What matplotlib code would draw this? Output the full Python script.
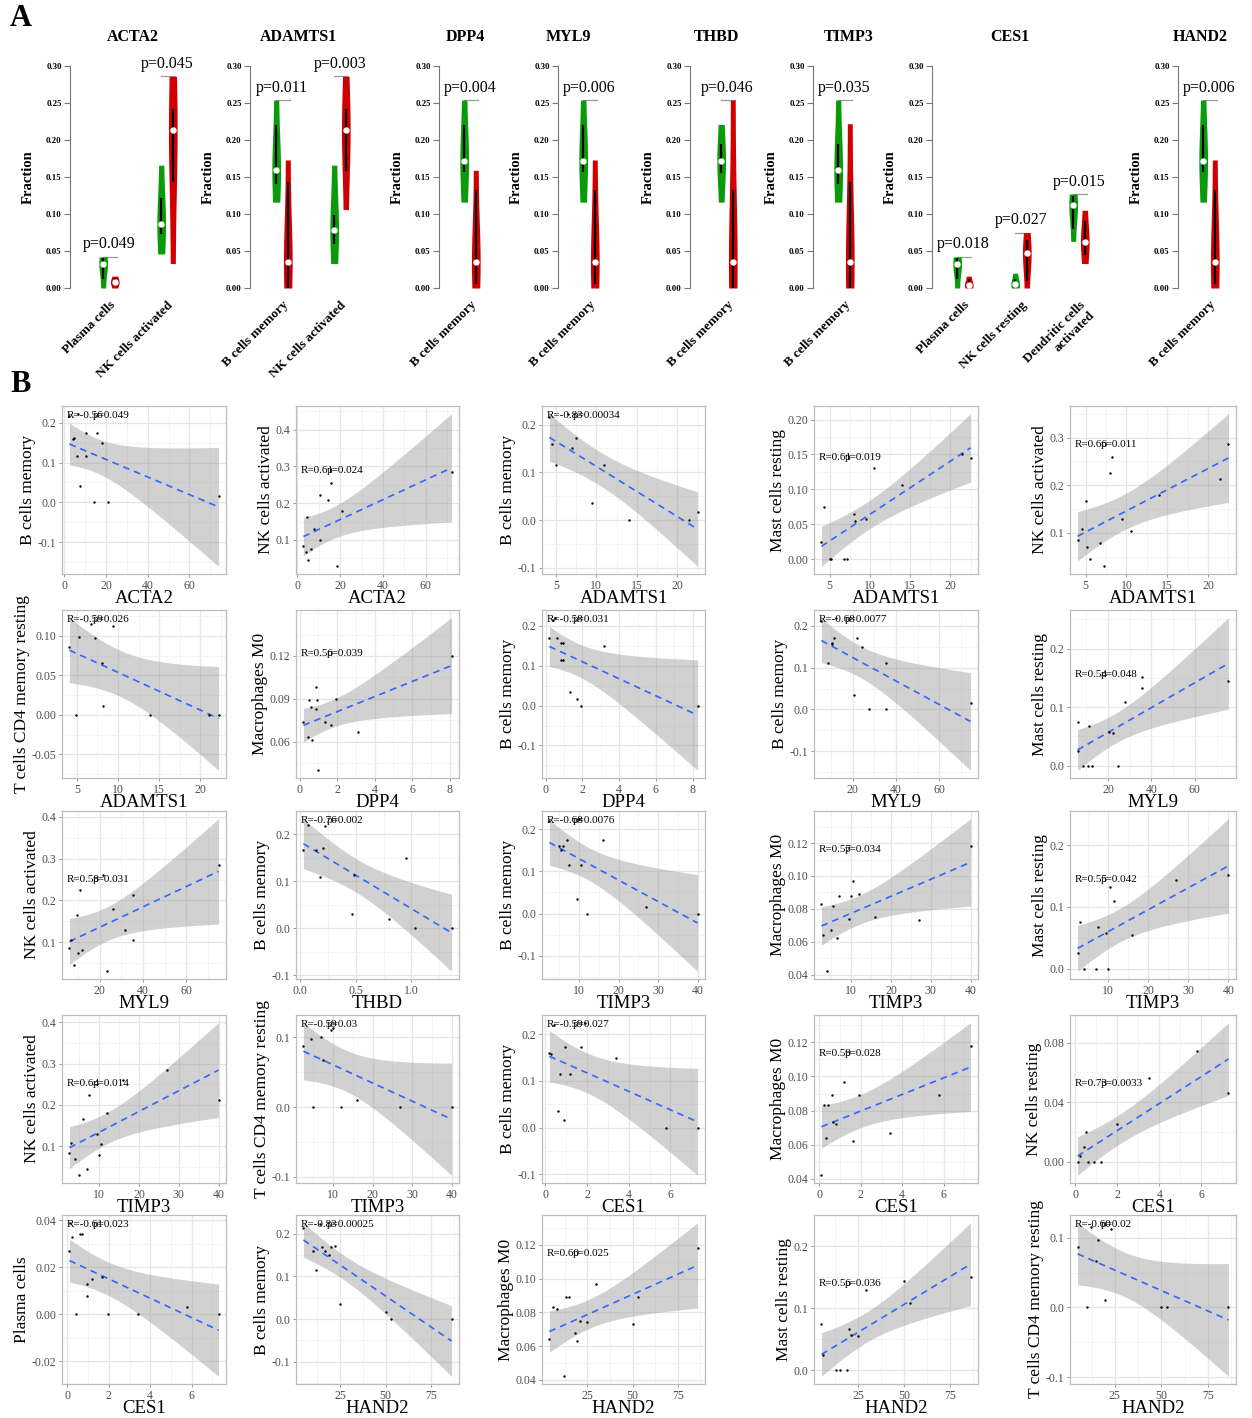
import numpy as np
import matplotlib.pyplot as plt

plt.rcParams['font.family'] = ['Liberation Serif', 'DejaVu Serif']

W, H = 1252, 1418

# ---------------- panel A data ----------------
a_genes = ['ACTA2', 'ADAMTS1', 'DPP4', 'MYL9', 'THBD', 'TIMP3', 'CES1', 'HAND2']
a_cells = [['Plasma cells', 'NK cells activated'],
           ['B cells memory', 'NK cells activated'],
           ['B cells memory'], ['B cells memory'], ['B cells memory'], ['B cells memory'],
           ['Plasma cells', 'NK cells resting', 'Dendritic cells\nactivated'],
           ['B cells memory']]
a_pvals = [['p=0.049', 'p=0.045'], ['p=0.011', 'p=0.003'], ['p=0.004'], ['p=0.006'],
           ['p=0.046'], ['p=0.035'], ['p=0.018', 'p=0.027', 'p=0.015'], ['p=0.006']]
# (min, q1, median, q3, max)
a_green = [[(0, 0.012, 0.033, 0.040, 0.042), (0.046, 0.073, 0.086, 0.121, 0.166)],
           [(0.116, 0.140, 0.159, 0.220, 0.254), (0.033, 0.060, 0.078, 0.098, 0.166)],
           [(0.116, 0.157, 0.172, 0.220, 0.254)],
           [(0.116, 0.157, 0.172, 0.220, 0.254)],
           [(0.116, 0.155, 0.172, 0.195, 0.221)],
           [(0.116, 0.140, 0.159, 0.195, 0.254)],
           [(0, 0.012, 0.033, 0.040, 0.042), (0, 0.002, 0.005, 0.012, 0.020),
            (0.063, 0.080, 0.112, 0.125, 0.127)],
           [(0.116, 0.157, 0.172, 0.220, 0.254)]]
a_red = [[(0, 0.003, 0.008, 0.014, 0.016), (0.033, 0.143, 0.213, 0.242, 0.286)],
         [(0, 0.0, 0.035, 0.143, 0.173), (0.106, 0.158, 0.213, 0.242, 0.286)],
         [(0, 0.005, 0.035, 0.133, 0.159)],
         [(0, 0.005, 0.035, 0.133, 0.173)],
         [(0, 0.0, 0.035, 0.133, 0.254)],
         [(0, 0.0, 0.035, 0.143, 0.222)],
         [(0, 0.002, 0.004, 0.012, 0.016), (0, 0.010, 0.047, 0.065, 0.075),
          (0.033, 0.045, 0.062, 0.090, 0.105)],
         [(0, 0.005, 0.035, 0.133, 0.173)]]
a_yticks = ['0.00', '0.05', '0.10', '0.15', '0.20', '0.25', '0.30']

# ---------------- panel B data ----------------
b_xgene = ['ACTA2', 'ACTA2', 'ADAMTS1', 'ADAMTS1', 'ADAMTS1',
           'ADAMTS1', 'DPP4', 'DPP4', 'MYL9', 'MYL9',
           'MYL9', 'THBD', 'TIMP3', 'TIMP3', 'TIMP3',
           'TIMP3', 'TIMP3', 'CES1', 'CES1', 'CES1',
           'CES1', 'HAND2', 'HAND2', 'HAND2', 'HAND2']
b_ycell = ['B cells memory', 'NK cells activated', 'B cells memory', 'Mast cells resting', 'NK cells activated',
           'T cells CD4 memory resting', 'Macrophages M0', 'B cells memory', 'B cells memory', 'Mast cells resting',
           'NK cells activated', 'B cells memory', 'B cells memory', 'Macrophages M0', 'Mast cells resting',
           'NK cells activated', 'T cells CD4 memory resting', 'B cells memory', 'Macrophages M0', 'NK cells resting',
           'Plasma cells', 'B cells memory', 'Macrophages M0', 'Mast cells resting', 'T cells CD4 memory resting']
b_r = ['R=-0.56', 'R=0.61', 'R=-0.83', 'R=0.61', 'R=0.66',
       'R=-0.59', 'R=0.56', 'R=-0.58', 'R=-0.68', 'R=0.54',
       'R=0.58', 'R=-0.76', 'R=-0.68', 'R=0.57', 'R=0.55',
       'R=0.64', 'R=-0.59', 'R=-0.59', 'R=0.59', 'R=0.73',
       'R=-0.61', 'R=-0.83', 'R=0.60', 'R=0.56', 'R=-0.60']
b_p = ['p=0.049', 'p=0.024', 'p=0.00034', 'p=0.019', 'p=0.011',
       'p=0.026', 'p=0.039', 'p=0.031', 'p=0.0077', 'p=0.048',
       'p=0.031', 'p=0.002', 'p=0.0076', 'p=0.034', 'p=0.042',
       'p=0.014', 'p=0.03', 'p=0.027', 'p=0.028', 'p=0.0033',
       'p=0.023', 'p=0.00025', 'p=0.025', 'p=0.036', 'p=0.02']
b_x = [
    [2.4, 4.2, 4.5, 5.9, 6.4, 7.4, 10.2, 10.2, 14.4, 15.8, 17.9, 21, 74],
    [2.9, 4.0, 4.4, 5.1, 6.6, 7.7, 10.6, 10.6, 14.3, 15.8, 18.7, 21, 72],
    [4.2, 4.5, 5.0, 6.5, 7.0, 7.5, 9.5, 11, 14, 21.5, 22.5],
    [4.0, 4.3, 5.0, 5.2, 6.8, 7.2, 8.0, 8.2, 9.5, 10.5, 14, 21.5, 22.5],
    [4.0, 4.5, 5.0, 5.2, 5.5, 6.8, 7.2, 8.0, 8.2, 9.5, 10.5, 14, 21.5, 22.5],
    [4.1, 4.9, 5.2, 6.7, 7.2, 8.0, 8.2, 9.4, 13.9, 21.1, 22.2],
    [0.2, 0.45, 0.5, 0.6, 0.65, 0.85, 0.87, 0.95, 0.97, 1.35, 1.65, 1.93, 3.13, 8.1],
    [0.2, 0.4, 0.5, 0.63, 0.85, 0.94, 0.85, 0.94, 1.32, 1.7, 1.93, 3.16, 8.27],
    [5.6, 8.4, 10.3, 10.6, 11.5, 12.3, 20.6, 22, 24.2, 27.4, 35.2, 35.2, 74.4],
    [6, 6, 8.6, 10.6, 11.5, 12.6, 20.6, 22.3, 24.6, 27.7, 35.7, 35.7, 75.5],
    [5.9, 6.7, 8.1, 9.6, 10, 10.7, 11.9, 21.5, 23.3, 26.3, 31.8, 35.5, 35.5, 75],
    [0.03, 0.07, 0.14, 0.18, 0.21, 0.22, 0.47, 0.48, 0.8, 0.95, 1.03, 1.36],
    [2.5, 5, 5.5, 6, 7, 7.5, 9.5, 10, 10.5, 12, 16, 27, 40],
    [2.5, 3, 4, 5, 5.5, 6.5, 7, 9.5, 10, 10.5, 12, 16, 27, 40],
    [2.5, 3, 4, 7, 7.5, 9.5, 10, 10.5, 11.5, 16, 27, 40],
    [2.5, 3, 4, 5, 6, 7, 7.5, 9.5, 10, 10.5, 12, 16, 27, 40],
    [2.5, 4.5, 5, 7, 7.5, 9.5, 10, 12, 16, 27, 40],
    [0.2, 0.3, 0.4, 0.6, 0.7, 0.9, 0.95, 1.2, 1.7, 1.9, 3.4, 5.8, 7.3],
    [0.1, 0.2, 0.3, 0.4, 0.6, 0.65, 0.8, 1.2, 1.6, 1.9, 3.4, 5.8, 7.3],
    [0.1, 0.2, 0.4, 0.5, 0.6, 0.9, 1.2, 2, 3.5, 5.8, 7.3],
    [0.1, 0.15, 0.2, 0.4, 0.6, 0.7, 0.95, 0.95, 1.2, 1.65, 1.95, 3.4, 5.8, 7.3],
    [5, 10, 12, 14, 15, 17, 19, 20, 22, 25, 50, 53, 86],
    [4, 6, 8, 12, 13, 15, 18, 19, 21, 25, 30, 50, 53, 86],
    [5, 6, 13, 15, 19, 20, 21, 25, 29, 50, 53, 86],
    [5, 10, 12, 15, 16, 20, 23, 50, 53, 86],
]
b_y = [
    [0.217, 0.159, 0.161, 0.116, 0.223, 0.04, 0.174, 0.116, 0.0, 0.174, 0.15, 0.0, 0.016],
    [0.084, 0.066, 0.163, 0.046, 0.075, 0.13, 0.10, 0.223, 0.21, 0.255, 0.028, 0.178, 0.284],
    [0.215, 0.16, 0.116, 0.223, 0.15, 0.172, 0.035, 0.116, 0.0, 0.0, 0.016],
    [0.025, 0.075, 0.0, 0.0, 0.0, 0.0, 0.065, 0.055, 0.057, 0.13, 0.107, 0.15, 0.145],
    [0.085, 0.108, 0.166, 0.07, 0.045, 0.078, 0.03, 0.225, 0.26, 0.13, 0.105, 0.18, 0.213, 0.286],
    [0.086, 0.0, 0.098, 0.115, 0.097, 0.066, 0.011, 0.112, 0.0, 0.0, 0.0],
    [0.074, 0.063, 0.089, 0.084, 0.061, 0.083, 0.098, 0.089, 0.040, 0.074, 0.072, 0.090, 0.067, 0.12],
    [0.17, 0.214, 0.22, 0.17, 0.157, 0.157, 0.114, 0.114, 0.034, 0.016, 0.0, 0.149, 0.0],
    [0.212, 0.112, 0.158, 0.156, 0.17, 0.219, 0.034, 0.17, 0.148, 0.0, 0.112, 0.0, 0.015],
    [0.074, 0.025, 0.0, 0.0, 0.067, 0.0, 0.057, 0.055, 0.0, 0.109, 0.132, 0.151, 0.144],
    [0.085, 0.104, 0.045, 0.165, 0.073, 0.225, 0.08, 0.26, 0.03, 0.18, 0.13, 0.213, 0.104, 0.285],
    [0.167, 0.22, 0.167, 0.11, 0.17, 0.218, 0.03, 0.113, 0.02, 0.15, 0.0, 0.0],
    [0.22, 0.16, 0.15, 0.16, 0.175, 0.116, 0.035, 0.225, 0.116, 0.0, 0.175, 0.016, 0.0],
    [0.083, 0.064, 0.042, 0.067, 0.082, 0.062, 0.088, 0.074, 0.088, 0.097, 0.089, 0.075, 0.073, 0.118],
    [0.025, 0.075, 0.0, 0.0, 0.067, 0.057, 0.0, 0.132, 0.109, 0.055, 0.144, 0.151],
    [0.085, 0.108, 0.07, 0.03, 0.166, 0.045, 0.225, 0.13, 0.078, 0.105, 0.18, 0.26, 0.285, 0.213],
    [0.087, 0.097, 0.0, 0.1, 0.067, 0.11, 0.113, 0.0, 0.01, 0.0, 0.0],
    [0.16, 0.158, 0.22, 0.035, 0.115, 0.016, 0.172, 0.115, 0.172, 0.225, 0.15, 0.0, 0.0],
    [0.042, 0.083, 0.064, 0.083, 0.089, 0.073, 0.072, 0.097, 0.062, 0.089, 0.067, 0.089, 0.118],
    [0.0, 0.004, 0.01, 0.02, 0.0, 0.0, 0.0, 0.025, 0.056, 0.074, 0.046],
    [0.027, 0.039, 0.033, 0.0, 0.034, 0.034, 0.013, 0.008, 0.015, 0.016, 0.0, 0.0, 0.003, 0.0],
    [0.215, 0.16, 0.116, 0.223, 0.17, 0.16, 0.15, 0.17, 0.172, 0.035, 0.016, 0.0, 0.0],
    [0.064, 0.083, 0.082, 0.042, 0.089, 0.089, 0.068, 0.063, 0.075, 0.074, 0.097, 0.073, 0.089, 0.118],
    [0.075, 0.025, 0.0, 0.0, 0.0, 0.067, 0.057, 0.055, 0.13, 0.144, 0.109, 0.15],
    [0.087, 0.0, 0.115, 0.067, 0.097, 0.01, 0.112, 0.0, 0.0, 0.0],
]
b_xticks = [['0', '20', '40', '60']] * 2 + [['5', '10', '15', '20']] * 4 + \
           [['0', '2', '4', '6', '8']] * 2 + [['20', '40', '60']] * 3 + [['0.0', '0.5', '1.0']] + \
           [['10', '20', '30', '40']] * 5 + [['0', '2', '4', '6']] * 4 + [['25', '50', '75']] * 4
b_yticks = [['-0.1', '0.0', '0.1', '0.2'], ['0.1', '0.2', '0.3', '0.4'], ['-0.1', '0.0', '0.1', '0.2'],
            ['0.00', '0.05', '0.10', '0.15', '0.20'], ['0.1', '0.2', '0.3'],
            ['-0.05', '0.00', '0.05', '0.10', '0.15'], ['0.06', '0.09', '0.12'], ['-0.1', '0.0', '0.1', '0.2'],
            ['-0.1', '0.0', '0.1', '0.2'], ['0.0', '0.1', '0.2'],
            ['0.1', '0.2', '0.3', '0.4'], ['-0.1', '0.0', '0.1', '0.2'], ['-0.1', '0.0', '0.1', '0.2'],
            ['0.04', '0.06', '0.08', '0.10', '0.12'], ['0.0', '0.1', '0.2'],
            ['0.1', '0.2', '0.3', '0.4'], ['-0.1', '0.0', '0.1'], ['-0.1', '0.0', '0.1', '0.2'],
            ['0.04', '0.06', '0.08', '0.10', '0.12'], ['0.00', '0.04', '0.08'],
            ['-0.02', '0.00', '0.02', '0.04'], ['-0.1', '0.0', '0.1', '0.2'],
            ['0.04', '0.06', '0.08', '0.10', '0.12'], ['0.0', '0.1', '0.2'], ['-0.1', '0.0', '0.1']]
# vertical placement of the R/p label (axes fraction)
b_labely = [0.97, 0.64, 0.97, 0.72, 0.8,
            0.97, 0.77, 0.97, 0.97, 0.64,
            0.62, 0.97, 0.97, 0.8, 0.62,
            0.62, 0.97, 0.97, 0.8, 0.62,
            0.97, 0.97, 0.8, 0.62, 0.97]


def t975(df):
    z = 1.959964
    return (z + (z**3 + z) / (4 * df) + (5 * z**5 + 16 * z**3 + 3 * z) / (96 * df**2)
            + (3 * z**7 + 19 * z**5 + 17 * z**3 - 15 * z) / (384 * df**3))


def rect(l, t, r, b):
    return [l / W, 1 - b / H, (r - l) / W, (b - t) / H]


fig = plt.figure(figsize=(W / 100, H / 100), dpi=100)

# ---------------- A ----------------
GREEN = '#0a9b0a'
RED = '#d10000'
a_spine = [70, 250, 439, 558, 690, 813, 932, 1178]
a_first = [109, 282, 470, 589, 727, 844, 963, 1209]
a_title_x = [133, 298, 465, 568, 717, 849, 1010, 1200]
step = 58.0


def violin(ax, xc, st, color):
    lo, q1, med, q3, hi = st
    yy = np.linspace(lo, hi, 80)
    span = max(hi - lo, 1e-6)
    w = 0.075 * (0.55 + 0.45 * np.exp(-((yy - med) / (0.45 * span)) ** 2))
    ax.fill_betweenx(yy, xc - w, xc + w, color=color, lw=0, zorder=2)
    ax.plot([xc, xc], [q1, q3], color='black', lw=1.6, zorder=3, solid_capstyle='butt')
    ax.plot(xc, med, 'o', ms=3.6, mfc='white', mec='white', zorder=4)


for i, g in enumerate(a_genes):
    n = len(a_cells[i])
    left = a_spine[i]
    right = a_first[i] + (n - 1) * step + 32
    ax = fig.add_axes(rect(left, 66, right, 288))
    ax.set_xlim(1 - (a_first[i] - left) / step, n + 32 / step)
    ax.set_ylim(0, 0.30)
    for k in range(n):
        xg, xr = k + 1 - 0.1, k + 1 + 0.1
        top = max(a_green[i][k][4], a_red[i][k][4])
        ax.plot([xg, xr + 0.04], [top, top], color='#9a9a9a', lw=0.9, zorder=1)
        violin(ax, xg, a_green[i][k], GREEN)
        violin(ax, xr, a_red[i][k], RED)
        ax.text(k + 1, top + 0.006, a_pvals[i][k], ha='center', va='bottom', fontsize=11.5,
                clip_on=False)
    for s in ['top', 'right', 'bottom']:
        ax.spines[s].set_visible(False)
    ax.spines['left'].set_color('#777777')
    ax.spines['left'].set_bounds(0, 0.30)
    ax.set_yticks([float(t) for t in a_yticks], a_yticks)
    ax.tick_params(axis='y', labelsize=6.3, length=4, width=0.8, color='#777777', pad=2)
    for lab in ax.get_yticklabels():
        lab.set_fontweight('bold')
    ax.set_xticks(np.arange(1, n + 1), a_cells[i], rotation=45, ha='right',
                  rotation_mode='anchor', fontsize=9.5, fontweight='bold')
    ax.tick_params(axis='x', length=0, pad=8)
    ax.set_ylabel('Fraction', fontsize=10.5, fontweight='bold', labelpad=8)
    fig.text(a_title_x[i] / W, 1 - 37 / H, g, ha='center', va='center', fontsize=11.5,
             fontweight='bold')

fig.text(10 / W, 1 - 18 / H, 'A', fontsize=22, fontweight='bold', va='center', ha='left')
fig.text(10 / W, 1 - 384 / H, 'B', fontsize=22, fontweight='bold', va='center', ha='left')

# ---------------- B ----------------
cols = [(62, 226), (296, 459), (542, 705), (814, 978), (1070, 1236)]
rows = [(406, 574), (610, 778), (811, 979), (1015, 1183), (1215, 1384)]

for j in range(25):
    r, c = divmod(j, 5)
    ax = fig.add_axes(rect(cols[c][0], rows[r][0], cols[c][1], rows[r][1]))
    x = np.array(b_x[j], float)
    y = np.array(b_y[j], float)
    nn = len(x)
    slope, icpt = np.polyfit(x, y, 1)
    xs = np.linspace(x.min(), x.max(), 100)
    fit = icpt + slope * xs
    resid = y - (icpt + slope * x)
    s = np.sqrt(np.sum(resid ** 2) / (nn - 2))
    se = s * np.sqrt(1 / nn + (xs - x.mean()) ** 2 / np.sum((x - x.mean()) ** 2))
    tq = t975(nn - 2)
    lo, hi = fit - tq * se, fit + tq * se
    ax.fill_between(xs, lo, hi, color='#9a9a9a', alpha=0.45, lw=0, zorder=2)
    ax.plot(xs, fit, color='#3366FF', lw=1.2, ls=(0, (4, 3)), zorder=3)
    ax.scatter(x, y, s=3, color='black', zorder=4, linewidths=0)

    xt = [float(v) for v in b_xticks[j]]
    yt = [float(v) for v in b_yticks[j]]
    ax.set_xticks(xt, b_xticks[j])
    ax.set_yticks(yt, b_yticks[j])
    dx = xt[1] - xt[0]
    dy = yt[1] - yt[0]
    ax.set_xticks(np.arange(xt[0] - 2.5 * dx, xt[-1] + 3 * dx, dx / 2), minor=True)
    ax.set_yticks(np.arange(yt[0] - 2.5 * dy, yt[-1] + 3 * dy, dy / 2), minor=True)

    # ggplot-like limits: data + band, expanded 5%
    ymin, ymax = min(lo.min(), y.min()), max(hi.max(), y.max())
    yr = ymax - ymin
    ax.set_ylim(ymin - 0.05 * yr, ymax + 0.05 * yr)
    xr = x.max() - x.min()
    ax.set_xlim(x.min() - 0.05 * xr, x.max() + 0.05 * xr)

    ax.grid(which='major', color='#e6e6e6', lw=0.9, zorder=0)
    ax.grid(which='minor', color='#f3f3f3', lw=0.6, zorder=0)
    ax.set_axisbelow(True)
    ax.tick_params(which='minor', length=0)
    ax.tick_params(which='major', labelsize=8.5, labelcolor='#4d4d4d', length=2.5,
                   width=0.6, color='#888888', pad=1.5)
    for sp in ax.spines.values():
        sp.set_color('#bdbdbd')
        sp.set_linewidth(0.9)
    ax.set_xlabel(b_xgene[j], fontsize=13.5, labelpad=-1)
    ax.set_ylabel(b_ycell[j], fontsize=12.5, labelpad=1)

    aw = cols[c][1] - cols[c][0]
    ax.text(0.03, b_labely[j], b_r[j], transform=ax.transAxes, fontsize=8, va='top',
            ha='left', zorder=5)
    ax.text(0.03 + 26 / aw, b_labely[j], b_p[j], transform=ax.transAxes, fontsize=8,
            va='top', ha='left', zorder=5)

fig.savefig('out.png', dpi=100, facecolor='white')
